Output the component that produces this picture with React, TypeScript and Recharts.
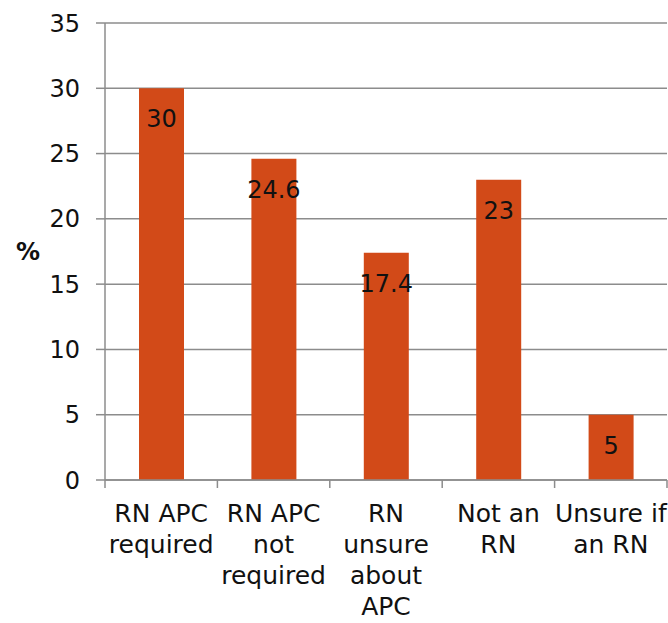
import React from 'react';
import { BarChart, Bar, XAxis, YAxis, CartesianGrid, LabelList } from 'recharts';

const categories = ['RN APC required', 'RN APC not required', 'RN unsure about APC', 'Not an RN', 'Unsure if an RN'];
const categoryLines = [
  ['RN APC', 'required'],
  ['RN APC', 'not', 'required'],
  ['RN', 'unsure', 'about', 'APC'],
  ['Not an', 'RN'],
  ['Unsure if', 'an RN'],
];
const percents = [30, 24.6, 17.4, 23, 5];
const yTicks = [0, 5, 10, 15, 20, 25, 30, 35];

const data = categories.map((name, i) => ({ name, lines: categoryLines[i], value: percents[i] }));

const FONT = '"DejaVu Sans", sans-serif';
const GRID = '#8c8c8c';
const BAR = '#D24A18';

const W = 668;
const H = 623;
const margin = { top: 23, right: 1, left: 0, bottom: 0 };
const yAxisWidth = 105;
const bandWidth = (W - margin.left - margin.right - yAxisWidth) / categories.length;

const CategoryTick = (props: any) => {
  const { x, y, index, payload } = props;
  const lines: string[] = data[index] ? data[index].lines : [String(payload.value)];
  const axisY = y - 10;
  return (
    <g>
      <line x1={x - bandWidth / 2} x2={x - bandWidth / 2} y1={axisY} y2={axisY + 8} stroke={GRID} strokeWidth={1.5} />
      {index === categories.length - 1 && (
        <line x1={x + bandWidth / 2} x2={x + bandWidth / 2} y1={axisY} y2={axisY + 8} stroke={GRID} strokeWidth={1.5} />
      )}
      <text x={x} y={y} textAnchor="middle" fontFamily={FONT} fontSize={25} fill="#111">
        {lines.map((l, i) => (
          <tspan key={i} x={x} y={y + 32 + i * 31}>
            {l}
          </tspan>
        ))}
      </text>
    </g>
  );
};

const ValueLabel = (props: any) => {
  const { x, y, width, value } = props;
  return (
    <text x={x + width / 2} y={y + 39} textAnchor="middle" fontFamily={FONT} fontSize={24} fill="#111">
      {value}
    </text>
  );
};

const App: React.FC = () => {
  return (
    <div style={{ position: 'absolute', left: 0, top: 0, width: W, height: H, background: '#fff', fontFamily: FONT }}>
      <BarChart width={W} height={H} data={data} margin={margin} barCategoryGap={0}>
        <CartesianGrid vertical={false} stroke={GRID} strokeWidth={1.5} />
        <XAxis
          dataKey="name"
          height={H - margin.top - 457}
          axisLine={{ stroke: GRID, strokeWidth: 1.5 }}
          tickLine={false}
          tickSize={8}
          tickMargin={2}
          interval={0}
          tick={<CategoryTick />}
        />
        <YAxis
          width={yAxisWidth}
          domain={[0, 35]}
          ticks={yTicks}
          interval={0}
          axisLine={{ stroke: GRID, strokeWidth: 1.5 }}
          tickLine={{ stroke: GRID, strokeWidth: 1.5 }}
          tickSize={9}
          tickMargin={16}
          tick={{ fontFamily: FONT, fontSize: 24, fill: '#111' }}
          label={{
            value: '%',
            position: 'insideLeft',
            offset: 16,
            angle: 0,
            style: { fontFamily: FONT, fontSize: 24, fontWeight: 'bold', fill: '#111' },
          }}
        />
        <Bar dataKey="value" fill={BAR} barSize={45} isAnimationActive={false}>
          <LabelList dataKey="value" content={<ValueLabel />} />
        </Bar>
      </BarChart>
    </div>
  );
};

export default App;
